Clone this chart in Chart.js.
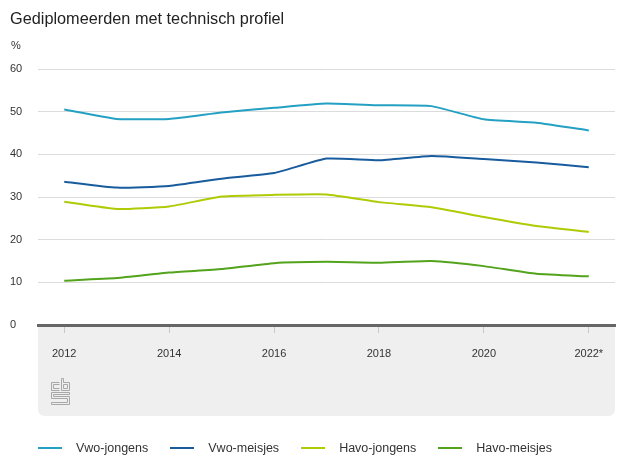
<!DOCTYPE html>
<html>
<head>
<meta charset="utf-8">
<script src="https://cdn.jsdelivr.net/npm/chart.js@4/dist/chart.umd.min.js"></script>
<style>
  body { margin: 0; background: #fff; font-family: "Liberation Sans", Arial, sans-serif; }
  #wrap { position: relative; width: 627px; height: 470px; }
  #chart { position: absolute; left: 0; top: 0; }
  #title { position: absolute; left: 10px; top: 9px; font-size: 16.3px; color: #222; }
  #unit { position: absolute; left: 11px; top: 39px; font-size: 11px; color: #333; }
  #legend { position: absolute; left: 38px; top: 441px; font-size: 12.5px; color: #333; display: flex; }
  .item { display: flex; align-items: center; margin-right: 22px; }
  .swatch { width: 24px; height: 2px; margin-right: 14px; }
</style>
</head>
<body>
<div id="wrap">
  <canvas id="chart" width="627" height="470"></canvas>
  <div id="title">Gediplomeerden met technisch profiel</div>
  <div id="unit">%</div>
  <div id="legend"></div>
</div>
<script>
const years = ['2012', '2013', '2014', '2015', '2016', '2017', '2018', '2019', '2020', '2021', '2022*'];
const seriesNames = ['Vwo-jongens', 'Vwo-meisjes', 'Havo-jongens', 'Havo-meisjes'];
const vwoJongens = [50.5, 48.3, 48.3, 49.8, 50.9, 51.9, 51.5, 51.3, 48.2, 47.4, 45.6];
const vwoMeisjes = [33.6, 32.2, 32.6, 34.3, 35.6, 39.0, 38.6, 39.6, 38.9, 38.1, 37.0];
const havoJongens = [28.9, 27.2, 27.8, 30.1, 30.5, 30.6, 28.8, 27.6, 25.3, 23.2, 21.8];
const havoMeisjes = [10.4, 11.0, 12.3, 13.1, 14.5, 14.8, 14.6, 15.0, 13.8, 12.0, 11.4];
const colors = ['#24a0c3', '#185c9e', '#afcb05', '#53a31d'];
const allSeries = [vwoJongens, vwoMeisjes, havoJongens, havoMeisjes];

// gray band under the x axis plus the small cbs logo
const bandPlugin = {
    id: 'band',
    beforeDraw(chart) {
        const c = chart.ctx;
        const a = chart.chartArea;
        const bottom = 416, r = 7;
        c.save();
        c.fillStyle = '#efefef';
        c.beginPath();
        c.moveTo(a.left, a.bottom);
        c.lineTo(a.right, a.bottom);
        c.lineTo(a.right, bottom - r);
        c.quadraticCurveTo(a.right, bottom, a.right - r, bottom);
        c.lineTo(a.left + r, bottom);
        c.quadraticCurveTo(a.left, bottom, a.left, bottom - r);
        c.closePath();
        c.fill();

        // logo
        c.strokeStyle = '#a8a8a8';
        c.lineWidth = 1;
        const x = 51.5, y = 378.5;
        c.beginPath();
        // c
        c.moveTo(x + 8, y + 4); c.lineTo(x, y + 4); c.lineTo(x, y + 12); c.lineTo(x + 8, y + 12);
        c.moveTo(x + 8, y + 6); c.lineTo(x + 2, y + 6); c.lineTo(x + 2, y + 10); c.lineTo(x + 8, y + 10);
        // b
        c.moveTo(x + 10, y); c.lineTo(x + 10, y + 12); c.lineTo(x + 18, y + 12); c.lineTo(x + 18, y + 4); c.lineTo(x + 12, y + 4); c.lineTo(x + 12, y); c.closePath();
        c.rect(x + 12, y + 6, 4, 4);
        // s
        c.moveTo(x, y + 14); c.lineTo(x + 18, y + 14); c.lineTo(x + 18, y + 16); c.lineTo(x + 2, y + 16); c.lineTo(x + 2, y + 18);
        c.lineTo(x + 18, y + 18); c.lineTo(x + 18, y + 26); c.lineTo(x, y + 26); c.lineTo(x, y + 24); c.lineTo(x + 16, y + 24);
        c.lineTo(x + 16, y + 20); c.lineTo(x, y + 20); c.closePath();
        c.stroke();
        c.restore();
    }
};

new Chart(document.getElementById('chart'), {
    type: 'line',
    data: {
        labels: years,
        datasets: seriesNames.map((name, i) => ({
            label: name,
            data: allSeries[i],
            borderColor: colors[i],
            backgroundColor: colors[i],
            borderWidth: 2,
            pointRadius: 0,
            tension: 0.15
        }))
    },
    options: {
        responsive: false,
        animation: false,
        layout: { padding: { left: 10, right: 12, top: 69, bottom: 105 } },
        plugins: { legend: { display: false }, tooltip: { enabled: false } },
        scales: {
            x: {
                offset: true,
                afterFit: s => { s.height = 40; },
                border: { color: '#666', width: 3, z: 1 },
                grid: {
                    drawOnChartArea: false,
                    tickLength: 8,
                    color: ctx => ctx.index % 2 === 0 ? '#c8c8c8' : 'rgba(0,0,0,0)'
                },
                ticks: {
                    autoSkip: false,
                    maxRotation: 0,
                    padding: 14,
                    color: '#333',
                    font: { family: 'Liberation Sans', size: 11 },
                    callback: function(v, i) { return i % 2 === 0 ? years[i] : ''; }
                }
            },
            y: {
                min: 0,
                max: 60,
                afterFit: s => { s.width = 28; },
                border: { display: false },
                grid: { color: '#dcdcdc', drawTicks: false },
                ticks: {
                    stepSize: 10,
                    crossAlign: 'far',
                    padding: 0,
                    color: '#333',
                    font: { family: 'Liberation Sans', size: 11 }
                }
            }
        }
    },
    plugins: [bandPlugin]
});

const legend = document.getElementById('legend');
seriesNames.forEach((name, i) => {
    const item = document.createElement('div');
    item.className = 'item';
    const sw = document.createElement('span');
    sw.className = 'swatch';
    sw.style.background = colors[i];
    const t = document.createElement('span');
    t.textContent = name;
    item.appendChild(sw);
    item.appendChild(t);
    legend.appendChild(item);
});
</script>
</body>
</html>
